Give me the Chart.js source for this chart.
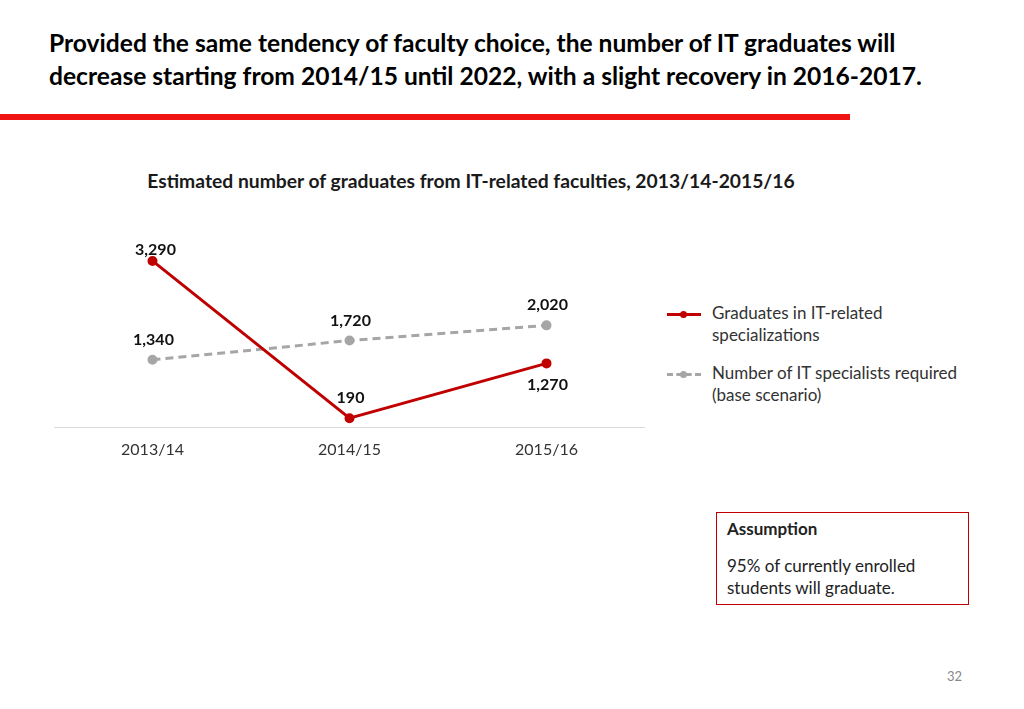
<!DOCTYPE html>
<html>
<head>
<meta charset="utf-8">
<script src="https://cdn.jsdelivr.net/npm/chart.js@4.4.0/dist/chart.umd.min.js"></script>
<style>
  html, body { margin: 0; padding: 0; background: #fff; }
  body { width: 1024px; height: 709px; position: relative; overflow: hidden; font-family: Lato, "Open Sans", sans-serif; }
  .headline { position: absolute; left: 49px; top: 26px; font-size: 24.6px; font-weight: bold; line-height: 33px; color: #000; white-space: nowrap; }
  .redbar { position: absolute; left: 0; top: 114px; width: 850px; height: 6px; background: #f01414; }
  .chart-title { position: absolute; left: 0; width: 942px; top: 169px; text-align: center; font-size: 19.3px; font-weight: bold; color: #1a1a1a; }
  #chartWrap { position: absolute; left: 54px; top: 231px; width: 591px; height: 240px; }
  .legend { position: absolute; left: 667px; font-size: 17px; color: #333; line-height: 22px; }
  .legend .txt { position: absolute; left: 45px; top: 0; white-space: nowrap; }
  .legend .sample { position: absolute; left: 0; width: 34px; top: 11px; height: 0; }
  .legend .dot { position: absolute; left: 13px; top: -5px; width: 7px; height: 7px; border-radius: 50%; }
  .box { position: absolute; left: 716px; top: 512px; width: 253px; height: 93px; border: 1px solid #c00000; box-sizing: border-box; font-size: 17px; color: #222; }
  .box .h { position: absolute; left: 10px; top: 5px; font-weight: bold; }
  .box .t { position: absolute; left: 10px; top: 42px; line-height: 22px; }
  .page { position: absolute; left: 947px; top: 668px; font-size: 13px; color: #888; }
</style>
</head>
<body>
<div class="headline">Provided the same tendency of faculty choice, the number of IT graduates will<br>decrease starting from 2014/15 until 2022, with a slight recovery in 2016-2017.</div>
<div class="redbar"></div>
<div class="chart-title">Estimated number of graduates from IT-related faculties, 2013/14-2015/16</div>
<div id="chartWrap"><canvas id="lineChart"></canvas></div>

<div class="legend" style="top:302px;">
  <div class="sample" style="border-top:3px solid #c00000;"><div class="dot" style="background:#c00000;"></div></div>
  <div class="txt">Graduates in IT-related<br>specializations</div>
</div>
<div class="legend" style="top:362px;">
  <div class="sample" style="border-top:3px dashed #a6a6a6;"><div class="dot" style="background:#a6a6a6;"></div></div>
  <div class="txt">Number of IT specialists required<br>(base scenario)</div>
</div>

<div class="box">
  <div class="h">Assumption</div>
  <div class="t">95% of currently enrolled<br>students will graduate.</div>
</div>
<div class="page">32</div>

<script>
// --- Data ---
const years = ['2013/14', '2014/15', '2015/16'];
const graduates = [3290, 190, 1270];
const required = [1340, 1720, 2020];

const seriesNames = ['Graduates in IT-related specializations', 'Number of IT specialists required (base scenario)'];
const redColor = '#c00000';
const greyColor = '#a6a6a6';

// which side of the point each value label sits on
const labelSide = [['above', 'above', 'below'], ['above', 'above', 'above']];

// small plugin for the value labels (no datalabels plugin available)
const valueLabels = {
    id: 'valueLabels',
    afterDatasetsDraw(chart) {
        const ctx = chart.ctx;
        ctx.save();
        ctx.font = 'bold 16px Lato, "Open Sans", sans-serif';
        ctx.fillStyle = '#111';
        ctx.textAlign = 'center';
        ctx.textBaseline = 'middle';
        chart.data.datasets.forEach((ds, i) => {
            const meta = chart.getDatasetMeta(i);
            meta.data.forEach((pt, j) => {
                let dy = labelSide[i][j] === 'above' ? -20 : 21;
                if (i === 0 && j === 0) dy = -11;
                const dx = (i === 0 && j === 0) ? 3 : 1;
                ctx.fillText(ds.data[j].toLocaleString('en-US'), pt.x + dx, pt.y + dy);
            });
        });
        ctx.restore();
    }
};

const ctx = document.getElementById('lineChart').getContext('2d');
new Chart(ctx, {
    type: 'line',
    data: {
        labels: years,
        datasets: [{
            label: seriesNames[0],
            data: graduates,
            borderColor: redColor,
            backgroundColor: redColor,
            borderWidth: 3,
            pointRadius: 3.5,
            pointHoverRadius: 3.5,
            tension: 0
        }, {
            label: seriesNames[1],
            data: required,
            borderColor: greyColor,
            backgroundColor: greyColor,
            borderWidth: 3,
            borderDash: [8, 5],
            pointRadius: 3.5,
            pointHoverRadius: 3.5,
            tension: 0
        }]
    },
    options: {
        responsive: true,
        maintainAspectRatio: false,
        animation: false,
        layout: { padding: 0, autoPadding: false },
        clip: false,
        plugins: {
            legend: { display: false },
            tooltip: { enabled: false }
        },
        scales: {
            x: {
                offset: true,
                grid: { display: false, drawTicks: false },
                border: { color: '#d9d9d9', width: 1 },
                ticks: { color: '#333', font: { family: 'Lato, "Open Sans", sans-serif', size: 16 }, padding: 12 }
            },
            y: {
                display: false,
                min: 0,
                max: 3880
            }
        }
    },
    plugins: [valueLabels]
});
</script>
</body>
</html>
